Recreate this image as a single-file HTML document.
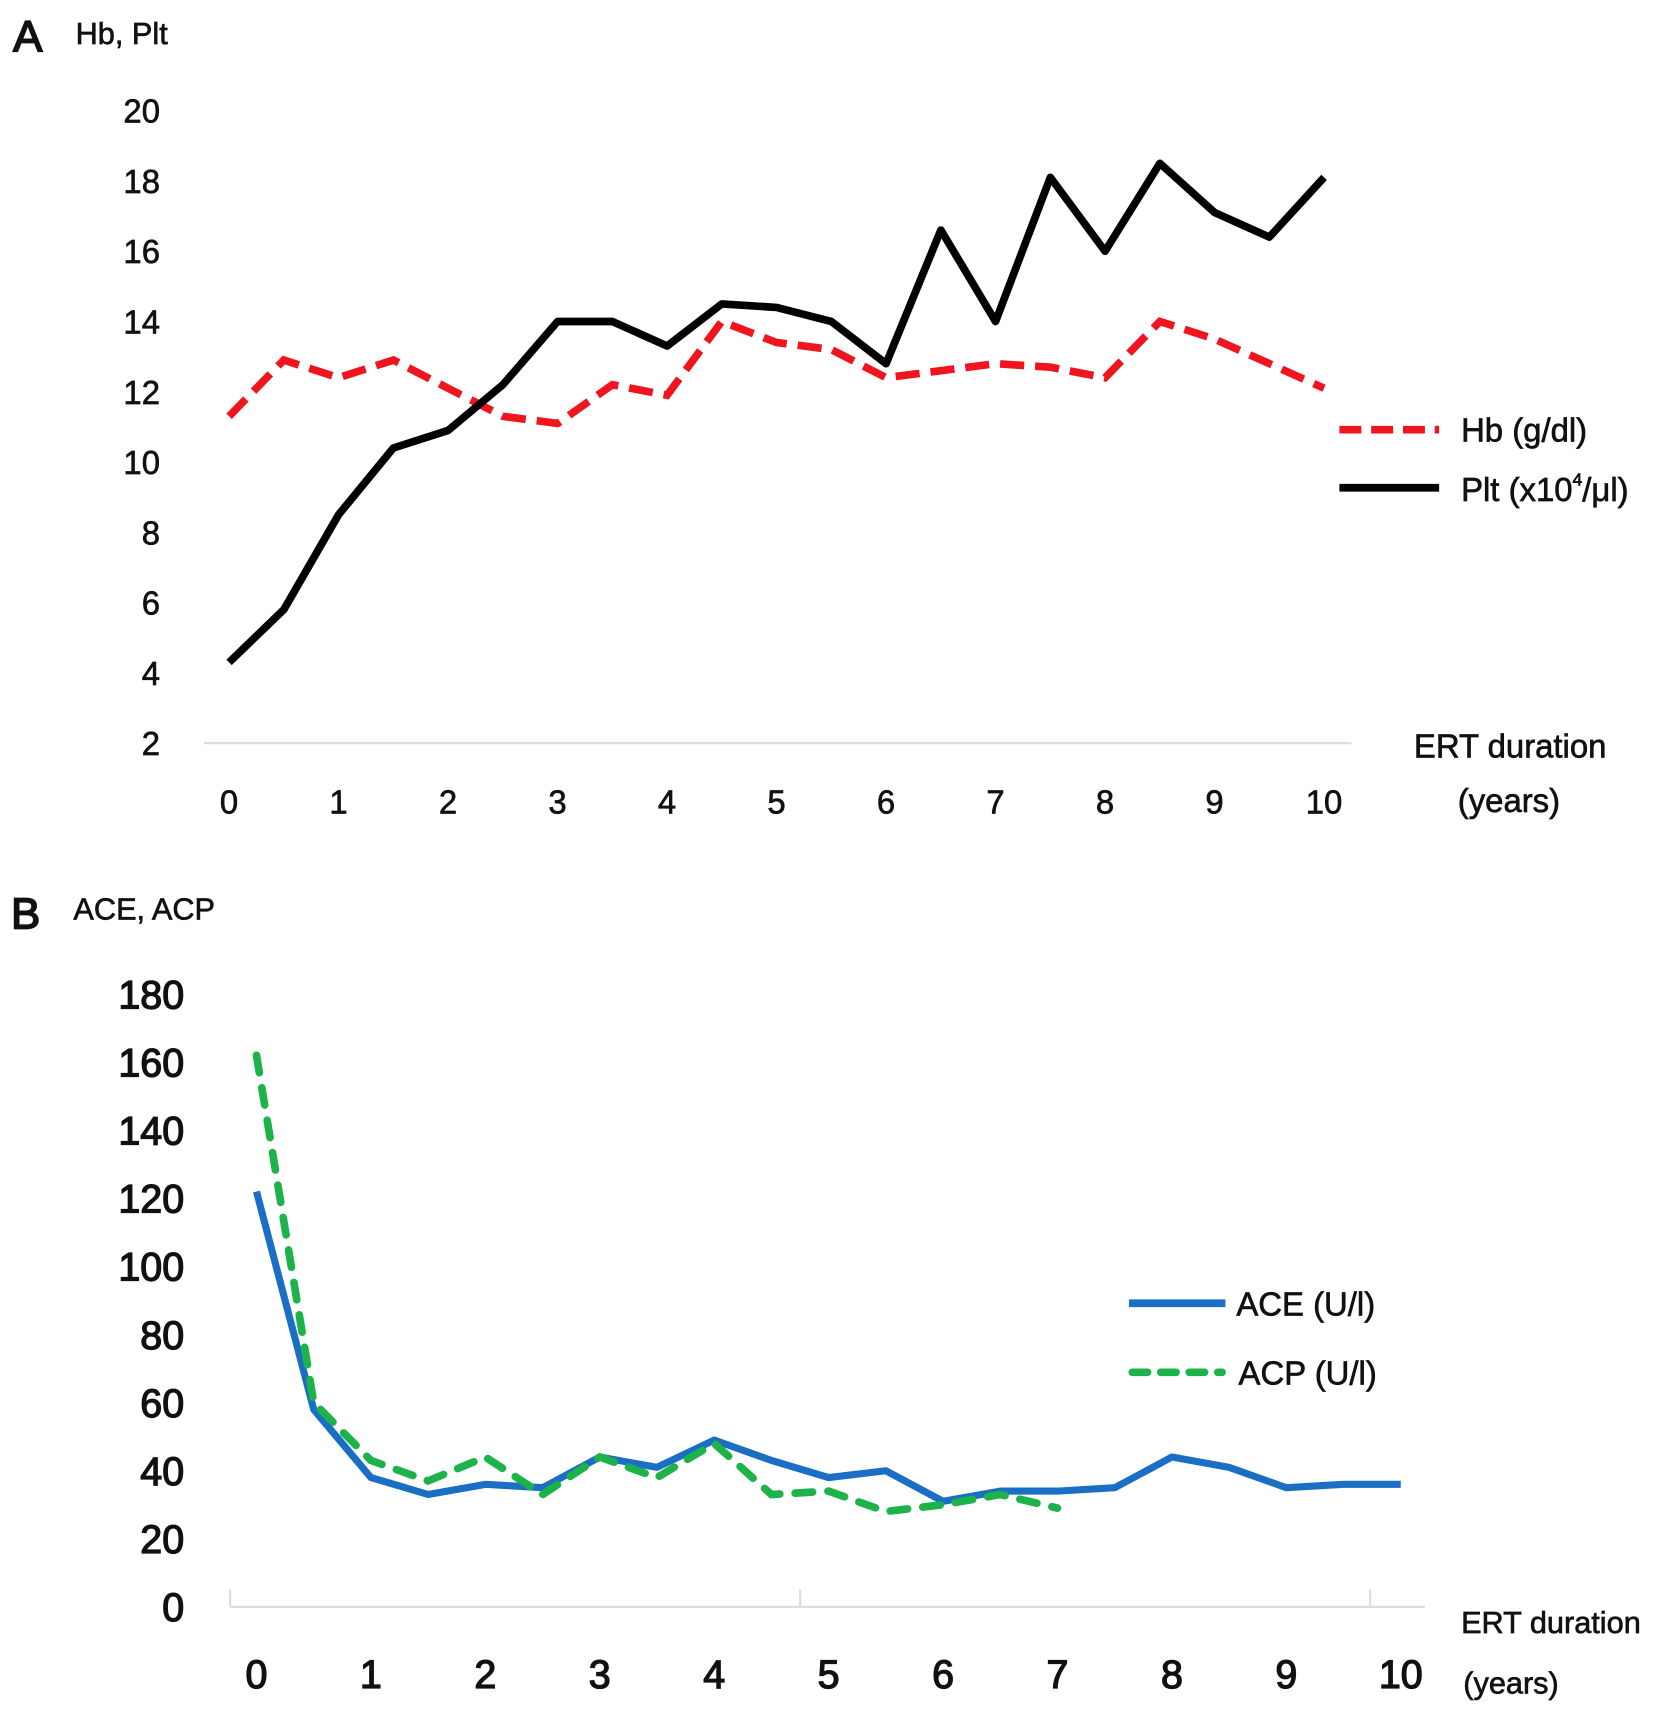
<!DOCTYPE html>
<html><head><meta charset="utf-8"><style>
html,body{margin:0;padding:0;background:#fff}
svg{display:block}
text{font-family:"Liberation Sans",sans-serif;fill:#111;stroke:#111;stroke-width:0.6}
</style></head><body>
<svg width="1677" height="1711" viewBox="0 0 1530 1561" preserveAspectRatio="none">
<g id="A">
<text x="12" y="47" font-size="40" style="stroke-width:1.5">A</text>
<text x="69" y="40" font-size="28">Hb, Plt</text>
<line x1="186" y1="678" x2="1233" y2="678" stroke="#ddd" stroke-width="2"/>
<g id="aTicks"></g>
<text x="1290" y="691" font-size="30">ERT duration</text>
<text x="1330" y="741" font-size="30">(years)</text>
<path id="hbLine" fill="none" stroke="#f0141e" stroke-width="7" stroke-dasharray="22,10"/>
<path id="pltLine" fill="none" stroke="#000" stroke-width="7" stroke-linejoin="round"/>
<line x1="1222" y1="392" x2="1313" y2="392" stroke="#f0141e" stroke-width="7" stroke-dasharray="20,9"/>
<text x="1333" y="403" font-size="30">Hb (g/dl)</text>
<line x1="1222" y1="445" x2="1313" y2="445" stroke="#000" stroke-width="7"/>
<text x="1333" y="457" font-size="30">Plt (x10<tspan font-size="16" dy="-14">4</tspan><tspan dy="14">/μl)</tspan></text>
</g>
<g id="B">
<text x="10" y="847" font-size="40" style="stroke-width:1.5">B</text>
<text x="67" y="839" font-size="28">ACE, ACP</text>
<line x1="210" y1="1466" x2="1300" y2="1466" stroke="#ddd" stroke-width="2"/>
<line x1="210" y1="1450" x2="210" y2="1466" stroke="#ddd" stroke-width="2"/>
<line x1="730" y1="1450" x2="730" y2="1466" stroke="#ddd" stroke-width="2"/>
<line x1="1250" y1="1450" x2="1250" y2="1466" stroke="#ddd" stroke-width="2"/>
<g id="bTicks"></g>
<text x="1333" y="1490" font-size="28">ERT duration</text>
<text x="1335" y="1545" font-size="28">(years)</text>
<path id="aceLine" fill="none" stroke="#1a6fc4" stroke-width="6.5" stroke-linejoin="round"/>
<path id="acpLine" fill="none" stroke="#1db24a" stroke-width="7" stroke-linecap="round" stroke-dasharray="16,14"/>
<line x1="1030" y1="1189" x2="1118" y2="1189" stroke="#1a6fc4" stroke-width="7"/>
<text x="1128" y="1200" font-size="30">ACE (U/l)</text>
<line x1="1033" y1="1252" x2="1115" y2="1252" stroke="#1db24a" stroke-width="7" stroke-linecap="round" stroke-dasharray="14,12"/>
<text x="1130" y="1263" font-size="30">ACP (U/l)</text>
</g>
</svg>
<script>
const aYears=[0,0.5,1,1.5,2,2.5,3,3.5,4,4.5,5,5.5,6,6.5,7,7.5,8,8.5,9,9.5,10];
const pltValues=[4.3,5.8,8.5,10.4,10.9,12.2,14,14,13.3,14.5,14.4,14,12.8,16.6,14,18.1,16,18.5,17.1,16.4,18.1];
const hbValues=[11.3,12.9,12.4,12.9,12.1,11.3,11.1,12.2,11.9,14,13.4,13.2,12.4,12.6,12.8,12.7,12.4,14,13.5,12.8,12.1];
const aYTicks=[2,4,6,8,10,12,14,16,18,20];
const xTickLabels=[0,1,2,3,4,5,6,7,8,9,10];
const aceYears=[0,0.5,1,1.5,2,2.5,3,3.5,4,4.5,5,5.5,6,6.5,7,7.5,8,8.5,9,9.5,10];
const aceValues=[122,58,38,33,36,35,44,41,49,43,38,40,31,34,34,35,44,41,35,36,36];
const acpYears=[0,0.5,1,1.5,2,2.5,3,3.5,4,4.5,5,5.5,6,6.5,7];
const acpValues=[162,60,43,37,44,33,44,38,48,33,34,28,30,33,29];
const bYTicks=[0,20,40,60,80,100,120,140,160,180];
const NS='http://www.w3.org/2000/svg';
const ax=v=>209+v*99.9, ay=v=>678-(v-2)*32.06;
const bx=v=>234+v*104.4, by=v=>1466-v*3.106;
function path(xs,ys,fx,fy){return xs.map((x,i)=>(i?'L':'M')+fx(x).toFixed(1)+' '+fy(ys[i]).toFixed(1)).join(' ');}
document.getElementById('pltLine').setAttribute('d',path(aYears,pltValues,ax,ay));
document.getElementById('hbLine').setAttribute('d',path(aYears,hbValues,ax,ay));
document.getElementById('aceLine').setAttribute('d',path(aceYears,aceValues,bx,by));
document.getElementById('acpLine').setAttribute('d',path(acpYears,acpValues,bx,by));
function txt(g,x,y,s,size,anchor,sw){const t=document.createElementNS(NS,'text');t.setAttribute('x',x);t.setAttribute('y',y);t.setAttribute('font-size',size);t.setAttribute('text-anchor',anchor);if(sw)t.style.strokeWidth=sw;t.textContent=s;g.appendChild(t);return t;}
const ga=document.getElementById('aTicks'), gb=document.getElementById('bTicks');
aYTicks.forEach(v=>{const t=txt(ga,146,ay(v)+11,v,30,'end');

});
xTickLabels.forEach(v=>{const t=txt(ga,ax(v),742,v,30,'middle');

});
bYTicks.forEach(v=>{const t=txt(gb,168,by(v)+13,v,36,'end','1.2');

});
xTickLabels.forEach(v=>{const t=txt(gb,bx(v),1540,v,36,'middle','1.2');

});
</script>
</body></html>
